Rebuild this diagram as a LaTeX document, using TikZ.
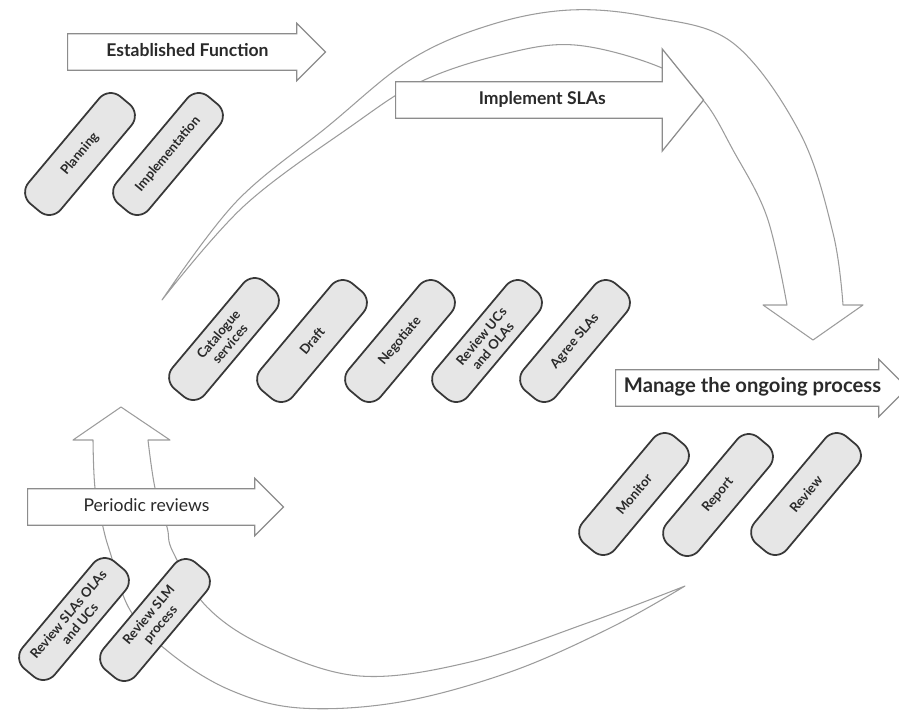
\documentclass[tikz,border=0pt]{standalone}
\usepackage{fontspec}
\setmainfont{Lato}
\usetikzlibrary{shapes.arrows}
\definecolor{capfill}{HTML}{E6E6E6}
\definecolor{capline}{HTML}{383838}
\definecolor{arrowline}{HTML}{8C8C8C}
\definecolor{curveline}{HTML}{9C9C9C}
\definecolor{labeltext}{HTML}{2A2A2A}

\begin{document}
\begin{tikzpicture}[x=0.02cm, y=-0.02cm,
        capsule/.style={draw=capline, fill=capfill, line width=1pt, rounded corners=0.3cm, minimum width=2.8cm, minimum height=0.84cm, rotate=50, align=center, inner sep=1pt, text=labeltext, font=\fontsize{7.5}{8.5}\selectfont\bfseries},
        blockarrow/.style={single arrow, draw=arrowline, fill=white, line width=0.7pt, anchor=tail, text=labeltext, inner ysep=5.5pt, inner xsep=3pt, text height=7pt, text depth=2pt, single arrow tip angle=90, single arrow head extend=6pt, font=\fontsize{10}{12}\selectfont\bfseries},
        curvearrow/.style={draw=curveline, fill=white, line width=0.6pt, line join=round}]
    \useasboundingbox (0,0) rectangle (899,711);
    \clip (0,0) rectangle (899,711);

    % sweep over the top
    \draw[curvearrow] plot[smooth, tension=0.6] coordinates {(162,300) (244,206) (350,127) (420,82) (500,55) (575,45) (662,68) (703,100) (733,150) (767,217) (787,305)}
        -- (763,305) -- (813,340) -- (863,305) -- (843,305)
        -- plot[smooth, tension=0.6] coordinates {(843,305) (833,233) (800,133) (733,43) (650,17) (570,10) (490,25) (410,60) (327,127) (236,202) (162,300)} -- cycle;

    \node[blockarrow, minimum height=5.16cm] (estab) at (67,52) {Established Function};
    \node[blockarrow, minimum height=6.16cm, single arrow tip angle=102, single arrow head extend=18.7pt] (implsla) at (395,100) {Implement SLAs};

    \node[capsule] (plan) at (80,154) {Planning};
    \node[capsule] (impl) at (168,154) {Implementation};

    \node[capsule] (catal) at (224,339) {Catalogue\\services};
    \node[capsule] (draft) at (312,341) {Draft};
    \node[capsule] (negot) at (400,341) {Negotiate};
    \node[capsule] (revuc) at (487,341) {Review UCs\\and OLAs};
    \node[capsule] (agree) at (575,341) {Agree SLAs};

    % sweep along the bottom
    \draw[curvearrow] plot[smooth, tension=0.6] coordinates {(685,586) (590,622) (470,662) (360,676) (267,647) (207,607) (173,552) (167,527) (155,488) (148,440)}
        -- (170,440) -- (121,407) -- (73,440) -- (93,440)
        -- plot[smooth, tension=0.6] coordinates {(93,440) (95,488) (103,527) (110,552) (130,610) (170,653) (230,690) (300,708) (400,702) (510,672) (610,628) (685,586)} -- cycle;

    \node[blockarrow, minimum height=5.84cm, inner xsep=0pt, font=\fontsize{11.5}{13}\selectfont\bfseries] (manage) at (615,388) {Manage the ongoing process};
    \node[capsule] (monit) at (634,494) {Monitor};
    \node[capsule] (report) at (718,495) {Report};
    \node[capsule] (review) at (806,494) {Review};

    \node[blockarrow, minimum height=5.12cm, font=\fontsize{10}{12}\selectfont] (period) at (27,507) {Periodic reviews};
    \node[capsule] (revsla) at (74,619) {Review SLAs OLAs\\and UCs};
    \node[capsule] (revslm) at (155,620) {Review SLM\\process};
\end{tikzpicture}
\end{document}
